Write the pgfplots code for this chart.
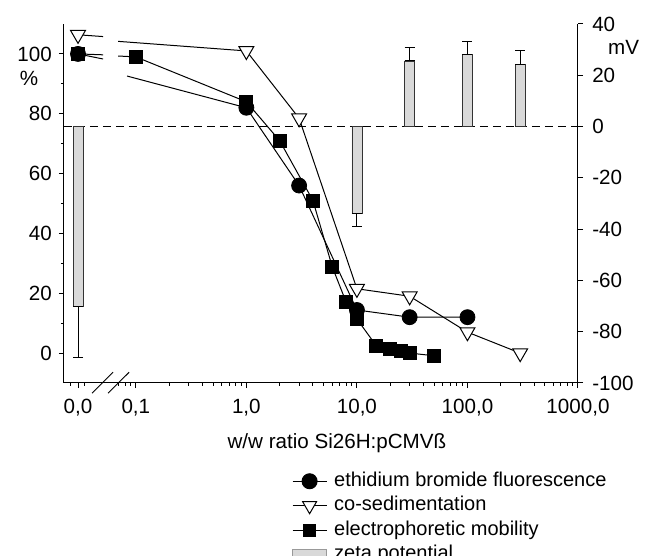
\documentclass[border=0pt]{standalone}
\usepackage{fontspec}
\setmainfont{Liberation Sans}
\usepackage{pgfplots}
\pgfplotsset{compat=1.18}
\definecolor{zetafill}{gray}{0.85}
\begin{document}
\begin{tikzpicture}
\path[use as bounding box] (-32pt,-86.5pt) rectangle (290.5pt,191.5pt);

% right axis: zeta potential
\begin{axis}[
  width=257pt, height=179.5pt, scale only axis,
  xmode=log, xmin=0.0224, xmax=1000,
  font=\fontsize{10.3}{12.4}\selectfont,
  tick style={black, line width=0.5pt},
  major tick length=2.6pt, minor tick length=1.5pt,
  tick align=outside,
  axis line style={line width=0.5pt},
  clip=false,
  axis x line=none, axis y line*=right,
  ymin=-100, ymax=40,
  ytick={-100,-80,-60,-40,-20,0,20,40},
  yticklabels={-100,-80,-60,-40,-20,0,20,40},
  yticklabel style={xshift=1pt},
]
\addplot[black, dash pattern=on 4pt off 2.5pt, line width=0.5pt, forget plot]
  coordinates {(0.0224,0) (1000,0)};
\addplot[ybar, bar width=5pt, fill=zetafill, draw=black!80, line width=0.4pt, forget plot,
  error bars/.cd, y dir=both, y explicit,
  error bar style={black, line width=0.5pt},
  error mark options={black, rotate=90, mark size=2.5pt, line width=0.5pt}]
  coordinates {
  (0.03,-70) += (0,0) -= (0,20)
  (10,-34) += (0,0) -= (0,5)
  (30,25.6) += (0,5.2) -= (0,0)
  (100,28) += (0,5.1) -= (0,0)
  (300,24.3) += (0,5.3) -= (0,0)};
\node[anchor=west] at (axis description cs:1.045,0.936) {mV};
\end{axis}

% left axis: percent
\begin{axis}[
  width=257pt, height=179.5pt, scale only axis,
  xmode=log, xmin=0.0224, xmax=1000,
  font=\fontsize{10.3}{12.4}\selectfont,
  tick style={black, line width=0.5pt},
  major tick length=2.6pt, minor tick length=1.5pt,
  tick align=outside,
  axis line style={line width=0.5pt},
  clip=false,
  axis x line*=bottom, axis y line*=left,
  ymin=-10, ymax=110,
  ytick={0,20,40,60,80,100},
  yticklabels={0,20,40,60,80,100},
  minor ytick={10,30,50,70,90},
  xtick={0.03,0.1,1,10,100,1000},
  xticklabels={{0,0},{0,1},{1,0},{10,0},{100,0},{1000,0}},
  minor xtick={0.0257,0.034,0.07,0.08,0.09,0.2,0.3,0.4,0.5,0.6,0.7,0.8,0.9,2,3,4,5,6,7,8,9,20,30,40,50,60,70,80,90,200,300,400,500,600,700,800,900},
  xticklabel style={yshift=-2pt},
  xlabel={w/w ratio Si26H:pCMVß},
  xlabel style={at={(axis description cs:0.531,-0.167)}, anchor=center},
  unbounded coords=jump,
  legend style={draw=none, fill=none, at={(axis description cs:0.4312,-0.228)},
    anchor=north west, row sep=0.25pt, font=\fontsize{10}{12}\selectfont,
    nodes={inner sep=1pt, text height=7.5pt, text depth=2.5pt},
    /tikz/every odd column/.append style={column sep=2.5pt}},
  legend cell align=left,
]
% lines (with axis break)
\addplot[black, line width=0.5pt, forget plot] coordinates {
  (0.03,100) (0.0506,99.7) (0.06,nan) (0.0691,99.3) (0.1,99) (1,84) (2,71) (4,51)
  (6,28.7) (8,17) (10,11.4) (15,2.4) (20,1.3) (25,0.8) (30,0) (50,-0.9)};
\addplot[black, line width=0.5pt, forget plot] coordinates {
  (0.03,100) (0.0506,98.3) (0.06,nan) (0.0834,92.6) (1,82) (3,56) (10,14.4) (30,12) (100,12)};
\addplot[black, line width=0.5pt, forget plot] coordinates {
  (0.03,106.4) (0.0506,105.8) (0.06,nan) (0.0691,104.2) (1,101) (3,78.5) (10,21.5)
  (30,19) (100,7) (300,0)};
% markers
\addplot[only marks, mark=square*, mark size=3.25pt, black, forget plot] coordinates {
  (0.03,100) (0.1,99) (1,84) (2,71) (4,51) (6,28.7) (8,17) (10,11.4) (15,2.4)
  (20,1.3) (25,0.8) (30,0) (50,-0.9)};
\addplot[only marks, mark=*, mark size=3.75pt, black, forget plot] coordinates {
  (0.03,100) (1,82) (3,56) (10,14.4) (30,12) (100,12)};
\addplot[only marks, mark=triangle*, mark size=4.3pt, black,
  mark options={rotate=180, fill=white, line width=0.5pt}, forget plot] coordinates {
  (0.03,106.4) (1,101) (3,78.5) (10,21.5) (30,19) (100,7) (300,0)};
% axis break marks
\draw[line width=0.5pt] (axis cs:0.0402,-13.4) -- (axis cs:0.0622,-6.4);
\draw[line width=0.5pt] (axis cs:0.0561,-13.4) -- (axis cs:0.0869,-6.4);
\node at (axis description cs:-0.068,0.8496) {\%};
% legend
\addlegendimage{black, line width=0.5pt, mark=*, mark size=3.75pt}
\addlegendimage{black, line width=0.5pt, mark=triangle*, mark size=4pt, mark options={rotate=180, fill=white}}
\addlegendimage{black, line width=0.5pt, mark=square*, mark size=3pt}
\addlegendimage{area legend, fill=zetafill, draw=black!40}
\legend{ethidium bromide fluorescence, co-sedimentation, electrophoretic mobility, zeta potential}
\end{axis}
\end{tikzpicture}
\end{document}
